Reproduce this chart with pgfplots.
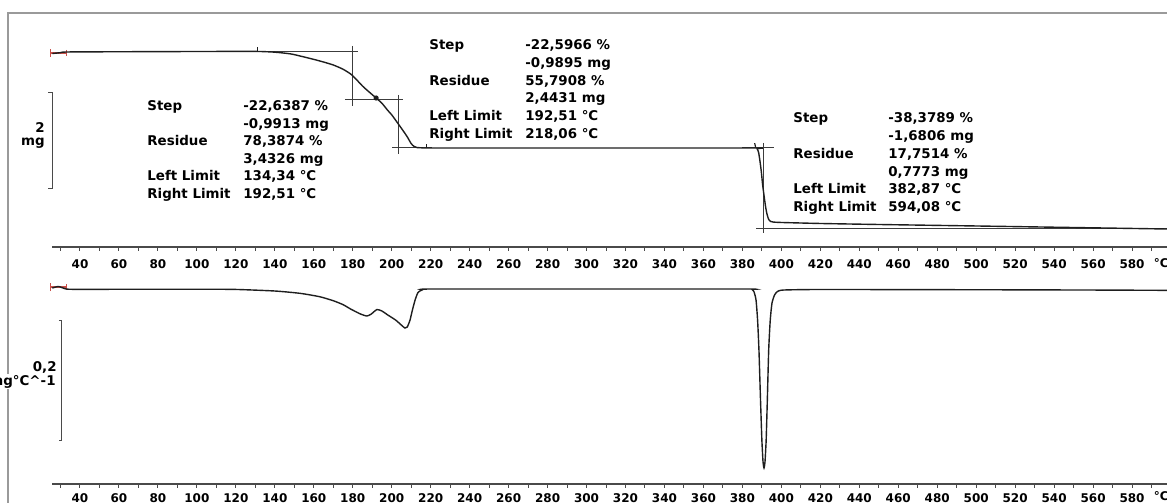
\documentclass[border=0pt]{standalone}
\usepackage{fontspec}
\setmainfont{DejaVu Sans}
\usepackage{pgfplots}
\pgfplotsset{compat=1.18}
\usetikzlibrary{arrows.meta}

\definecolor{curve}{HTML}{1E1E1E}
\definecolor{cons}{HTML}{3C3C3C}
\definecolor{redm}{HTML}{C8504A}
\definecolor{framec}{HTML}{9A9A9A}
\definecolor{axc}{HTML}{4A4A4A}

\newcommand{\ann}{\fontsize{6.7}{8}\selectfont\bfseries}
\newcommand{\tkf}{\fontsize{6}{7}\selectfont\bfseries}

\pgfplotsset{
  thermo/.style={
    scale only axis, width=559.5pt,
    xmin=25.63, xmax=600,
    axis x line*=bottom, axis y line=none, ytick=\empty,
    axis line style={axc, line width=0.55pt, -},
    xtick={40,60,...,580},
    minor xtick={30,50,...,590},
    xtick align=outside,
    major tick length=1.8pt, minor tick length=1.8pt,
    every tick/.style={axc, line width=0.5pt},
    tick label style={font=\tkf},
    xticklabel style={anchor=center, yshift=-6.6pt, inner sep=0pt},
    /pgf/number format/assume math mode=true,
    clip=false,
  }
}

\begin{document}
\begin{tikzpicture}[x=0.5pt,y=-0.5pt]
\useasboundingbox (0,0) rectangle (1167,503);
\clip (0,0) rectangle (1167,503);
\draw[framec, line width=0.6pt] (8,560) -- (8,13) -- (1200,13);

% ---------------- TG (top) ----------------
\begin{axis}[thermo, at={(26pt,-123.5pt)}, anchor=south west,
  height=108.5pt, ymin=0.306, ymax=4.827]
% construction lines
\draw[cons, line width=0.4pt] (axis cs:128,4.389) -- (axis cs:182.7,4.389);
\draw[cons, line width=0.4pt] (axis cs:179.6,4.494) -- (axis cs:179.6,3.244);
\draw[cons, line width=0.4pt] (axis cs:176,3.389) -- (axis cs:205.8,3.389);
\draw[cons, line width=0.4pt] (axis cs:203.2,3.473) -- (axis cs:203.2,2.244);
\draw[cons, line width=0.4pt] (axis cs:200.2,2.379) -- (axis cs:220.7,2.379);
\draw[cons, line width=0.4pt] (axis cs:380,2.379) -- (axis cs:396,2.379);
\draw[cons, line width=0.4pt] (axis cs:390.6,2.473) -- (axis cs:390.6,0.598);
\draw[cons, line width=0.4pt] (axis cs:387,0.702) -- (axis cs:600,0.702);
% small limit markers
\draw[curve, line width=0.7pt] (axis cs:131,4.389) -- (axis cs:131,4.47);
\fill[curve] (axis cs:192,3.41) circle[radius=1.3pt];
\draw[curve, line width=0.6pt] (axis cs:218,2.379) -- (axis cs:218,2.45);
\draw[curve, line width=0.6pt] (axis cs:386.8,2.379) -- (axis cs:386.3,2.47);
% scale bar
\draw[axc, line width=0.5pt] (axis cs:23.58,3.535) -- (axis cs:25.63,3.535) -- (axis cs:25.63,1.535) -- (axis cs:23.58,1.535);
% start marker
\draw[redm, line width=0.6pt, {Bar[width=4pt]}-{Bar[width=3pt]}] (axis cs:24.6,4.348) -- (axis cs:33.3,4.348);
% unit label
\node[anchor=base, inner sep=0pt, font=\tkf, yshift=-10.2pt] at (axis cs:595,0.306) {°C};
\addplot[curve, line width=0.7pt, smooth, tension=0.35] coordinates {
(25.8,4.337) (30,4.355) (33,4.369) (60,4.374) (100,4.379) (130,4.381)
(140,4.365) (148,4.33) (153,4.285) (160,4.215) (165,4.16) (170,4.098)
(175,4.01) (179.6,3.889) (185,3.66) (188,3.55) (192,3.41) (195,3.30)
(198,3.15) (200,3.06) (203.2,2.88) (206,2.72) (208,2.60) (210,2.46)
(211.5,2.40) (213,2.378) (216,2.372) (220,2.369) (300,2.369) (386.5,2.369)
(387.5,2.355) (388.3,2.28) (389,2.10) (389.7,1.88) (390.4,1.598)
(391.2,1.35) (392,1.12) (392.7,0.98) (393.5,0.88) (394.5,0.838)
(396,0.825) (400,0.817) (420,0.796) (450,0.775) (500,0.744) (550,0.712)
(598,0.681)
};
\end{axis}

% ---------------- DTG (bottom) ----------------
\begin{axis}[thermo, at={(26pt,-242pt)}, anchor=south west,
  height=107pt, ymin=-0.325, ymax=0.0317,
  xticklabel style={yshift=1.1pt}]
\draw[axc, line width=0.5pt] (axis cs:29.22,-0.0517) -- (axis cs:30.76,-0.0517) -- (axis cs:30.76,-0.2517) -- (axis cs:29.22,-0.2517);
\draw[redm, line width=0.6pt, {Bar[width=4pt]}-{Bar[width=3pt]}] (axis cs:24.6,0.0033) -- (axis cs:33.3,0.0033);
\node[anchor=base, inner sep=0pt, font=\tkf, yshift=-8.4pt] at (axis cs:595,-0.325) {°C};
\addplot[curve, line width=0.7pt, smooth, tension=0.35] coordinates {
(25.8,0.0017) (29,0.0042) (33,0) (40,-0.0005) (100,-0.0003) (120,-0.0007)
(140,-0.0033) (153,-0.0072) (163,-0.0128) (170,-0.0195) (175,-0.026)
(179,-0.0335) (184,-0.0417) (187.3,-0.045) (189.5,-0.0417) (192.4,-0.0342) (195,-0.0367)
(198,-0.0433) (202,-0.0517) (205.5,-0.0617) (206.8,-0.065) (208,-0.0633)
(209.4,-0.0517) (210.5,-0.0367) (212,-0.0183) (213.5,-0.0058) (215.5,-0.0017)
(219.6,0) (300,0) (383,0) (385,-0.0008) (386,-0.005) (387,-0.0183)
(387.8,-0.0517) (388.5,-0.1017) (389.3,-0.185) (390,-0.2517) (390.6,-0.2883)
(391.1,-0.2983) (391.6,-0.2883) (392.2,-0.2517) (392.8,-0.185) (393.5,-0.1017)
(394.3,-0.0517) (395.2,-0.0233) (396.5,-0.01) (398,-0.0042) (401,-0.0017)
(420,-0.0008) (500,-0.0012) (560,-0.0017) (598,-0.0022)
};
\end{axis}

% ---------------- scale labels ----------------
\node[anchor=base east, inner sep=0pt, font=\ann] at (45,132.5) {2};
\node[anchor=base east, inner sep=0pt, font=\ann] at (45,145.5) {mg};
\node[anchor=base east, inner sep=0pt, font=\ann] at (57,371.5) {0,2};
\node[anchor=base east, inner sep=0.5pt, fill=white, font=\ann] at (57,385) {mg°C\textasciicircum-1};

% ---------------- annotation blocks ----------------
\begin{scope}[every node/.style={anchor=base west, inner sep=0pt, font=\ann}]
\node at (147,110.5) {Step};
\node at (147,145.7) {Residue};
\node at (147,180.9) {Left Limit};
\node at (147,198.5) {Right Limit};
\node at (243,110.5) {-22,6387 \%};
\node at (243,128.1) {-0,9913 mg};
\node at (243,145.7) {78,3874 \%};
\node at (243,163.3) {3,4326 mg};
\node at (243,180.9) {134,34 °C};
\node at (243,198.5) {192,51 °C};
% block 2
\node at (429,49.5) {Step};
\node at (429,85) {Residue};
\node at (429,120.5) {Left Limit};
\node at (429,138.3) {Right Limit};
\node at (525,49.5) {-22,5966 \%};
\node at (525,67.3) {-0,9895 mg};
\node at (525,85) {55,7908 \%};
\node at (525,102.8) {2,4431 mg};
\node at (525,120.5) {192,51 °C};
\node at (525,138.3) {218,06 °C};
% block 3
\node at (793,122.7) {Step};
\node at (793,158.3) {Residue};
\node at (793,193.9) {Left Limit};
\node at (793,211.7) {Right Limit};
\node at (888,122.7) {-38,3789 \%};
\node at (888,140.5) {-1,6806 mg};
\node at (888,158.3) {17,7514 \%};
\node at (888,176.1) {0,7773 mg};
\node at (888,193.9) {382,87 °C};
\node at (888,211.7) {594,08 °C};
\end{scope}
\end{tikzpicture}
\end{document}
